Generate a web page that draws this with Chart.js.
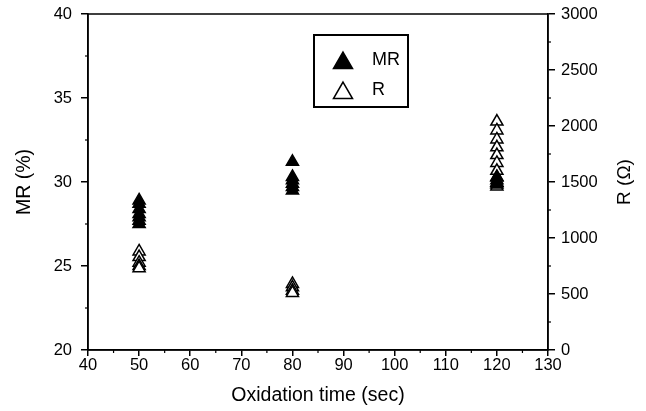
<!DOCTYPE html>
<html>
<head>
<meta charset="utf-8">
<script src="https://cdn.jsdelivr.net/npm/chart.js@4.4.0/dist/chart.umd.min.js"></script>
<style>
  html, body { margin: 0; padding: 0; background: #fff; }
  #wrap { width: 646px; height: 411px; }
</style>
</head>
<body>
<div id="wrap"><canvas id="myChart" width="646" height="411"></canvas></div>
<script>
  // oxidation times (sec)
  const times = [50, 80, 120];
  // MR (%) readings per oxidation time
  const mr50 = [28.9, 28.7, 28.4, 28.1, 27.9, 27.7, 27.5];
  const mr80 = [31.2, 30.3, 30.1, 29.9, 29.7, 29.5];
  const mr120 = [30.3, 30.1, 29.95, 29.85];
  // R (ohm) readings per oxidation time
  const r50 = [880, 830, 780, 750, 730];
  const r80 = [590, 560, 530, 510];
  const r120 = [2040, 1960, 1880, 1810, 1740, 1670, 1600, 1540, 1490, 1460];
  // tick labels
  const xTicks = [40, 50, 60, 70, 80, 90, 100, 110, 120, 130];
  const mrTicks = [20, 25, 30, 35, 40];
  const rTicks = [0, 500, 1000, 1500, 2000, 2500, 3000];

  const toPoints = function (x, values) {
    return values.map(function (v) { return { x: x, y: v }; });
  };

  const mrData = [].concat(toPoints(times[0], mr50), toPoints(times[1], mr80), toPoints(times[2], mr120));
  const rData = [].concat(toPoints(times[0], r50), toPoints(times[1], r80), toPoints(times[2], r120));

  const font = "'Liberation Sans', Arial, sans-serif";
  const plain = function (value) { return String(value); };

  function tri(ctx, x, y, r, filled) {
    ctx.beginPath();
    ctx.moveTo(x, y - r);
    ctx.lineTo(x + r * Math.sin(2 * Math.PI / 3), y + r * 0.5);
    ctx.lineTo(x - r * Math.sin(2 * Math.PI / 3), y + r * 0.5);
    ctx.closePath();
    if (filled) { ctx.fill(); }
    ctx.stroke();
  }

  const decorations = {
    id: "decorations",
    afterDraw: function (chart) {
      const ctx = chart.ctx;
      const a = chart.chartArea;
      ctx.save();
      ctx.strokeStyle = "#000";
      ctx.fillStyle = "#000";
      // frame
      ctx.lineWidth = 1.5;
      ctx.strokeRect(a.left, a.top, a.right - a.left, a.bottom - a.top);
      // minor ticks
      ctx.lineWidth = 1.2;
      const x = chart.scales.x, y = chart.scales.y, y1 = chart.scales.y1;
      for (let v = 45; v < 130; v += 10) {
        const px = x.getPixelForValue(v);
        ctx.beginPath(); ctx.moveTo(px, a.bottom); ctx.lineTo(px, a.bottom + 3); ctx.stroke();
      }
      for (let v = 22.5; v < 40; v += 5) {
        const py = y.getPixelForValue(v);
        ctx.beginPath(); ctx.moveTo(a.left, py); ctx.lineTo(a.left - 3, py); ctx.stroke();
      }
      for (let v = 250; v < 3000; v += 500) {
        const py = y1.getPixelForValue(v);
        ctx.beginPath(); ctx.moveTo(a.right, py); ctx.lineTo(a.right + 3, py); ctx.stroke();
      }
      // right axis title, reading bottom to top
      ctx.font = "19px " + font;
      ctx.textAlign = "center";
      ctx.textBaseline = "middle";
      ctx.translate(625, (a.top + a.bottom) / 2);
      ctx.rotate(-Math.PI / 2);
      ctx.fillText("R (\u03A9)", 0, 0);
      ctx.restore();

      // legend box
      ctx.save();
      ctx.strokeStyle = "#000";
      ctx.fillStyle = "#000";
      ctx.lineWidth = 2;
      ctx.strokeRect(314, 35, 94, 72);
      ctx.lineWidth = 1.5;
      tri(ctx, 343, 63, 11, true);
      tri(ctx, 343, 93, 11, false);
      ctx.font = "18px " + font;
      ctx.textAlign = "left";
      ctx.textBaseline = "middle";
      ctx.fillText(chart.data.datasets[0].label, 372, 60);
      ctx.fillText(chart.data.datasets[1].label, 372, 90);
      ctx.restore();
    }
  };

  const noPad = function (s) { s.paddingTop = 0; s.paddingBottom = 0; };

  const ctx = document.getElementById("myChart").getContext("2d");
  new Chart(ctx, {
    type: "scatter",
    data: {
      datasets: [
        {
          label: "MR",
          data: mrData,
          yAxisID: "y",
          pointStyle: "triangle",
          pointRadius: 7,
          pointBackgroundColor: "#000",
          pointBorderColor: "#000",
          pointBorderWidth: 1.5
        },
        {
          label: "R",
          data: rData,
          yAxisID: "y1",
          pointStyle: "triangle",
          pointRadius: 7,
          pointBackgroundColor: "#fff",
          pointBorderColor: "#000",
          pointBorderWidth: 1.5
        }
      ]
    },
    options: {
      responsive: false,
      animation: false,
      layout: { padding: { top: 14, left: 9, right: 0, bottom: 0 } },
      plugins: { legend: { display: false }, tooltip: { enabled: false } },
      scales: {
        x: {
          type: "linear",
          min: 40,
          max: 130,
          afterBuildTicks: function (s) { s.ticks = xTicks.map(function (v) { return { value: v }; }); },
          afterFit: function (s) { s.height = 61; },
          grid: { drawOnChartArea: false, tickLength: 6, color: "#000", lineWidth: 1.5 },
          border: { color: "#000", width: 1.5 },
          ticks: { color: "#000", font: { family: font, size: 16.5 }, padding: 0, callback: plain },
          title: { display: true, text: "Oxidation time (sec)", color: "#000", font: { family: font, size: 19.5 }, padding: { top: 4 } }
        },
        y: {
          type: "linear",
          position: "left",
          min: 20,
          max: 40,
          afterBuildTicks: function (s) { s.ticks = mrTicks.map(function (v) { return { value: v }; }); },
          afterFit: function (s) { s.width = 79; noPad(s); },
          grid: { drawOnChartArea: false, tickLength: 7, color: "#000", lineWidth: 1.5 },
          border: { color: "#000", width: 1.5 },
          ticks: { color: "#000", font: { family: font, size: 16.5 }, padding: 9, callback: plain },
          title: { display: true, text: "MR (%)", color: "#000", font: { family: font, size: 19.5 }, padding: { bottom: 0 } }
        },
        y1: {
          type: "linear",
          position: "right",
          min: 0,
          max: 3000,
          afterBuildTicks: function (s) { s.ticks = rTicks.map(function (v) { return { value: v }; }); },
          afterFit: function (s) { s.width = 98; noPad(s); },
          grid: { drawOnChartArea: false, tickLength: 7, color: "#000", lineWidth: 1.5 },
          border: { color: "#000", width: 1.5 },
          ticks: { color: "#000", font: { family: font, size: 16.5 }, padding: 6, callback: plain }
        }
      }
    },
    plugins: [decorations]
  });
</script>
</body>
</html>
